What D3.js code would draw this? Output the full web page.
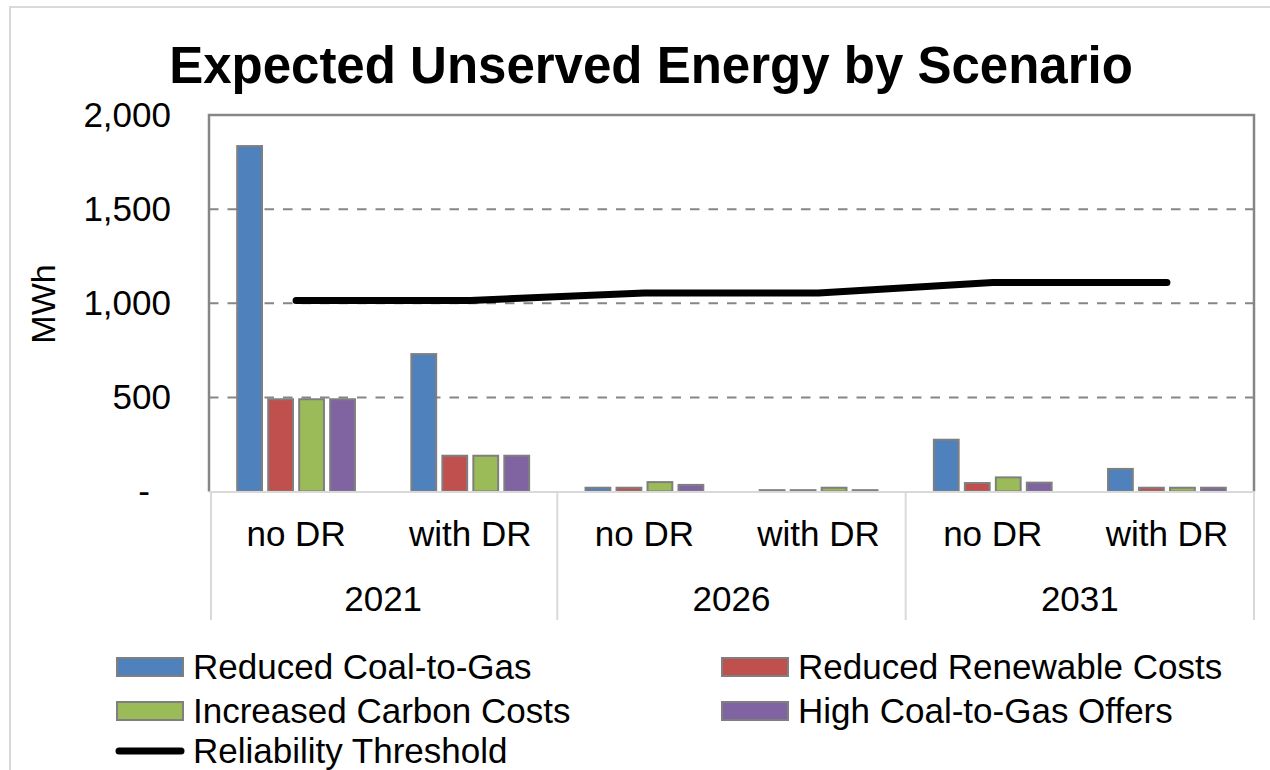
<!DOCTYPE html>
<html>
<head>
<meta charset="utf-8">
<script src="https://cdn.jsdelivr.net/npm/d3@7/dist/d3.min.js"></script>
<style>
  html, body { margin: 0; padding: 0; background: #fff; }
  svg { display: block; font-family: "Liberation Sans", Arial, sans-serif; }
</style>
</head>
<body>
<svg id="chart" width="1270" height="770"></svg>
<script>
// Category axis: inner level (demand response case) and outer level (study year)
const caseLabels = ["no DR", "with DR", "no DR", "with DR", "no DR", "with DR"];
const yearLabels = ["2021", "2026", "2031"];

// Expected unserved energy per scenario, MWh
const seriesNames = ["Reduced Coal-to-Gas", "Reduced Renewable Costs", "Increased Carbon Costs", "High Coal-to-Gas Offers"];
const reducedCoalToGas     = [1835, 730, 20, 7, 275, 120];
const reducedRenewable     = [490, 190, 20, 7, 45, 20];
const increasedCarbon      = [490, 190, 50, 20, 75, 20];
const highCoalToGasOffers  = [490, 190, 35, 7, 47, 20];
const reliabilityThreshold = [1015, 1015, 1055, 1055, 1110, 1110];

const yTickValues = [0, 500, 1000, 1500, 2000];
const yTickLabels = ["-", "500", "1,000", "1,500", "2,000"];

const seriesColors = ["#4f81bd", "#c0504d", "#9bbb59", "#8064a2"];
const seriesValues = [reducedCoalToGas, reducedRenewable, increasedCarbon, highCoalToGasOffers];

const svg = d3.select("#chart");
const plot = { left: 209, right: 1254, top: 115, bottom: 491.5 };
const labelSize = 35;

// outer chart frame
svg.append("rect")
  .attr("x", 10).attr("y", 7).attr("width", 1290).attr("height", 800)
  .attr("fill", "#fff").attr("stroke", "#d9d9d9").attr("stroke-width", 2);

const idx = d3.range(caseLabels.length);
const x0 = d3.scaleBand().domain(idx).range([plot.left, plot.right]).padding(0);
const x1 = d3.scaleBand().domain(d3.range(seriesNames.length))
  .range([0, x0.bandwidth()]).paddingInner(0.2).paddingOuter(0.91);
const y = d3.scaleLinear().domain([0, 2000]).range([plot.bottom, plot.top]);

// dashed gridlines
svg.append("g")
  .selectAll("line")
  .data(yTickValues.filter(v => v > 0 && v < 2000))
  .join("line")
  .attr("x1", plot.left).attr("x2", plot.right)
  .attr("y1", d => y(d)).attr("y2", d => y(d))
  .attr("stroke", "#868686").attr("stroke-width", 2)
  .attr("stroke-dasharray", "9.5,9");

// y axis labels
const yAxis = d3.axisLeft(y)
  .tickValues(yTickValues)
  .tickFormat((d, i) => yTickLabels[i])
  .tickSize(0).tickPadding(0);
const yg = svg.append("g").attr("transform", `translate(171,0)`).call(yAxis);
yg.select(".domain").remove();
yg.selectAll("text")
  .attr("font-size", labelSize).attr("fill", "#000")
  .attr("font-family", "'Liberation Sans', Arial, sans-serif")
  .attr("dx", d => d === 0 ? -21 : 0);

// bars
const groups = svg.append("g")
  .selectAll("g")
  .data(idx)
  .join("g")
  .attr("transform", i => `translate(${x0(i)},0)`);

groups.selectAll("rect")
  .data(i => seriesValues.map((vals, s) => ({ s, v: vals[i] })))
  .join("rect")
  .attr("x", d => x1(d.s))
  .attr("width", x1.bandwidth())
  .attr("y", d => y(d.v))
  .attr("height", d => y(0) - y(d.v))
  .attr("fill", d => seriesColors[d.s])
  .attr("stroke", "#7f7f7f").attr("stroke-width", 2);

// plot area frame: left, top, right
svg.append("path")
  .attr("d", `M${plot.left},${plot.bottom} V${plot.top} H${plot.right} V${plot.bottom}`)
  .attr("fill", "none").attr("stroke", "#868686").attr("stroke-width", 2.5);

// category axis line and group separators
const catAxis = svg.append("g").attr("stroke", "#d9d9d9").attr("stroke-width", 2);
catAxis.append("line")
  .attr("x1", plot.left).attr("x2", plot.right)
  .attr("y1", plot.bottom + 0.5).attr("y2", plot.bottom + 0.5);
catAxis.selectAll("line.sep")
  .data([0, 2, 4, 6])
  .join("line")
  .attr("class", "sep")
  .attr("x1", i => i < 6 ? x0(i) + (i === 0 ? 2 : 0) : plot.right)
  .attr("x2", i => i < 6 ? x0(i) + (i === 0 ? 2 : 0) : plot.right)
  .attr("y1", plot.bottom).attr("y2", 620);

// reliability threshold line
const line = d3.line()
  .x((d, i) => x0(i) + x0.bandwidth() / 2)
  .y(d => y(d));
svg.append("path")
  .datum(reliabilityThreshold)
  .attr("d", line)
  .attr("fill", "none").attr("stroke", "#000").attr("stroke-width", 7)
  .attr("stroke-linecap", "round").attr("stroke-linejoin", "round");

// category labels
svg.append("g")
  .selectAll("text")
  .data(caseLabels)
  .join("text")
  .attr("x", (d, i) => x0(i) + x0.bandwidth() / 2)
  .attr("y", 546)
  .attr("text-anchor", "middle").attr("font-size", labelSize)
  .text(d => d);

svg.append("g")
  .selectAll("text")
  .data(yearLabels)
  .join("text")
  .attr("x", (d, i) => x0(i * 2) + x0.bandwidth())
  .attr("y", 611)
  .attr("text-anchor", "middle").attr("font-size", labelSize)
  .text(d => d);

// y axis title
svg.append("text")
  .attr("transform", "translate(55,304) rotate(-90)")
  .attr("text-anchor", "middle").attr("font-size", 34)
  .text("MWh");

// chart title
svg.append("text")
  .attr("x", 651).attr("y", 83)
  .attr("text-anchor", "middle").attr("font-size", 51).attr("font-weight", "bold")
  .text("Expected Unserved Energy by Scenario");

// legend
const legendItems = [
  { label: seriesNames[0], color: seriesColors[0], x: 117, y: 667 },
  { label: seriesNames[1], color: seriesColors[1], x: 722, y: 667 },
  { label: seriesNames[2], color: seriesColors[2], x: 117, y: 711 },
  { label: seriesNames[3], color: seriesColors[3], x: 722, y: 711 }
];
const lg = svg.append("g");
legendItems.forEach(it => {
  lg.append("rect")
    .attr("x", it.x).attr("y", it.y - 9).attr("width", 66).attr("height", 18)
    .attr("fill", it.color).attr("stroke", "#7f7f7f").attr("stroke-width", 2);
  lg.append("text")
    .attr("x", it.x + 76).attr("y", it.y + 12)
    .attr("font-size", labelSize).text(it.label);
});
lg.append("line")
  .attr("x1", 119).attr("x2", 181).attr("y1", 751).attr("y2", 751)
  .attr("stroke", "#000").attr("stroke-width", 7).attr("stroke-linecap", "round");
lg.append("text")
  .attr("x", 193).attr("y", 763)
  .attr("font-size", labelSize).text("Reliability Threshold");
</script>
</body>
</html>
